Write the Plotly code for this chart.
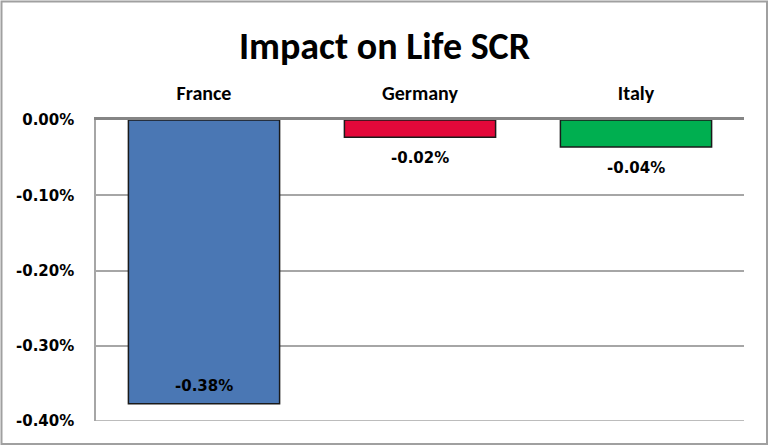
import plotly.graph_objects as go

# ---- data ----
categories = ["France", "Germany", "Italy"]
impact = [-0.00377, -0.00023, -0.00036]
bar_colors = ["#4A77B4", "#E3083A", "#00AF50"]
tick_vals = [0, -0.001, -0.002, -0.003, -0.004]
tick_labels = ["0.00%", "-0.10%", "-0.20%", "-0.30%", "-0.40%"]
label_inside = [True, False, False]

W, H = 769, 447
L, R, T, B = 96, 25, 120, 26
pw, ph = W - L - R, H - T - B

fig = go.Figure()
fig.add_trace(go.Bar(
    x=categories, y=impact,
    marker=dict(color=bar_colors, line=dict(color="#1a1a1a", width=1.5)),
    width=0.70, hoverinfo="skip",
))

lab_font = dict(family="DejaVu Sans", size=15, color="#000000")
for c, v, ins in zip(categories, impact, label_inside):
    txt = f"{v*100:.2f}%"
    if ins:
        fig.add_annotation(x=c, y=v, text="<b>%s</b>" % txt, showarrow=False,
                           yanchor="bottom", yshift=7, font=lab_font)
    else:
        fig.add_annotation(x=c, y=v, text="<b>%s</b>" % txt, showarrow=False,
                           yanchor="top", yshift=-10, font=lab_font)

# bottom gridline (edge of the value range)
fig.add_hline(y=tick_vals[-1], line=dict(color="#A6A6A6", width=1.5), layer="below")

# outer chart border
fig.add_shape(type="rect", xref="paper", yref="paper",
              x0=(1.5 - L) / pw, x1=(W - 2 - L) / pw,
              y0=-(H - 3 - (T + ph)) / ph, y1=(T + ph - 1.5) / ph,
              line=dict(color="#A0A0A0", width=2), layer="below")

fig.update_layout(
    width=W, height=H,
    margin=dict(l=L, r=R, t=T, b=B),
    paper_bgcolor="white", plot_bgcolor="white",
    showlegend=False,
    title=dict(text="<b>Impact on Life SCR</b>", x=0.5, xanchor="center",
               y=1 - 46 / H, yanchor="middle",
               font=dict(family="Carlito, Lato, sans-serif", size=38, color="#000000")),
    xaxis=dict(side="top", showline=True, linecolor="#858585", linewidth=2.5,
               showgrid=False, ticks="", ticklabelstandoff=9,
               tickfont=dict(family="Carlito, Lato, sans-serif", size=20, color="#000000"),
               tickprefix="<b>", ticksuffix="</b>", fixedrange=True),
    yaxis=dict(range=[tick_vals[-1], 0], tickvals=tick_vals,
               ticktext=["<b>%s</b>" % t for t in tick_labels],
               showgrid=True, gridcolor="#A6A6A6", gridwidth=1.5,
               showline=True, linecolor="#A6A6A6", linewidth=1.5,
               zeroline=False, ticks="", ticklabelstandoff=17,
               tickfont=dict(family="DejaVu Sans", size=15, color="#000000"), fixedrange=True),
)

fig.write_html("out.html", config={"displayModeBar": False},
               post_script="document.body.style.margin='0';document.body.style.overflow='hidden';")
